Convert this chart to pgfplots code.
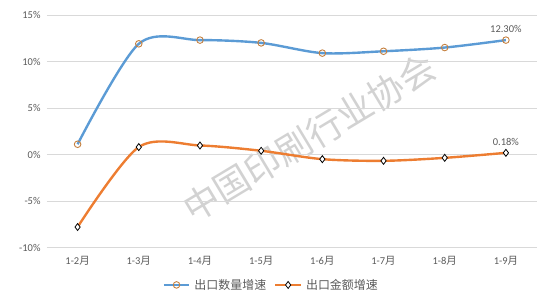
\documentclass[border=0pt]{standalone}
\usepackage{pgfplots}
\pgfplotsset{compat=1.18}
\usepackage{fontspec}
\setmainfont{Carlito}
\newfontfamily\cjk{Noto Sans CJK SC}
\definecolor{cblue}{HTML}{5B9BD5}
\definecolor{corange}{HTML}{ED7D31}
\definecolor{cmark}{HTML}{C5803F}
\definecolor{ctext}{HTML}{595959}
\definecolor{cgrid}{HTML}{D9D9D9}
\begin{document}
\begin{tikzpicture}
\useasboundingbox (-47bp,-50.5bp) rectangle (507bp,247.5bp);
\node[rotate=31, text=gray!35, font=\cjk\fontsize{36}{36}\selectfont] at (262bp,110bp) {中国印刷行业协会};
\begin{axis}[
  at={(0,0)}, anchor=south west,
  scale only axis, width=489.5bp, height=232.5bp,
  xmin=-0.5, xmax=7.5, ymin=-10, ymax=15,
  xtick={0,...,7},
  xticklabels={{1-2\cjk 月},{1-3\cjk 月},{1-4\cjk 月},{1-5\cjk 月},{1-6\cjk 月},{1-7\cjk 月},{1-8\cjk 月},{1-9\cjk 月}},
  ytick={-10,-5,0,5,10,15},
  yticklabels={-10\%,-5\%,0\%,5\%,10\%,15\%},
  axis line style={draw=none},
  tick style={draw=none},
  ymajorgrids, grid style={cgrid, line width=0.8pt},
  tick label style={text=ctext, font=\fontsize{10.5}{11}\selectfont},
  xticklabel style={yshift=-5pt},
  yticklabel style={xshift=-3pt},
  legend style={at={(0.458,-0.161)}, anchor=center, draw=none, fill=none,
    font=\cjk\fontsize{12}{13}\selectfont, text=ctext,
    column sep=2pt, /tikz/every even column/.append style={column sep=6pt}},
  legend columns=2,
  legend image code/.code={\draw[mark repeat=2,mark phase=2] plot coordinates {(0cm,0cm) (0.45cm,0cm) (0.9cm,0cm)};},
  legend cell align=left,
  clip=false,
]
\addplot[cblue, line width=2.4pt, smooth, mark=o, mark size=3.3pt,
  mark options={draw=cmark, fill=white, line width=0.9pt}]
  coordinates {(0,1.1) (1,11.9) (2,12.3) (3,12.0) (4,10.9) (5,11.1) (6,11.5) (7,12.3)};
\addlegendentry{出口数量增速}
\addplot[corange, line width=2.4pt, smooth, mark=diamond*, mark size=3.5pt,
  mark options={draw=black, fill=white, line width=0.8pt}]
  coordinates {(0,-7.8) (1,0.8) (2,0.97) (3,0.4) (4,-0.5) (5,-0.68) (6,-0.36) (7,0.18)};
\addlegendentry{出口金额增速}
\node[text=ctext, font=\fontsize{10.5}{11}\selectfont, above=4pt] at (axis cs:7,12.3) {12.30\%};
\node[text=ctext, font=\fontsize{10.5}{11}\selectfont, above=4pt] at (axis cs:7,0.18) {0.18\%};
\end{axis}
\end{tikzpicture}
\end{document}
